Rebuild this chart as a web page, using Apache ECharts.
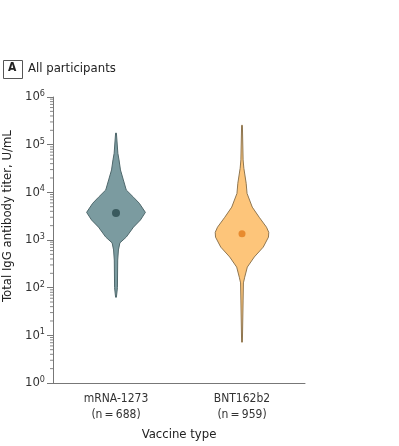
<!DOCTYPE html>
<html>
<head>
<meta charset="utf-8">
<script src="https://cdn.jsdelivr.net/npm/echarts@6/dist/echarts.min.js"></script>
<style>
  html, body { margin: 0; padding: 0; background: #fff; }
  #chart { width: 399px; height: 446px; }
</style>
</head>
<body>
<div id="chart"></div>
<script>
  /*-----data-----*/
  var categories = ['mRNA-1273', 'BNT162b2'];
  var groupSizes = [688, 959];
  var medians = [3700, 1350];

  // violin outlines: titer (U/mL) and relative density (1 = widest)
  var mrnaTiters = [175000, 66000, 48000, 29500, 18200, 11200, 7900, 5900, 3800, 2630, 1860, 1150, 870, 620, 380, 100, 63];
  var mrnaDensity = [0, 0.05, 0.09, 0.14, 0.24, 0.34, 0.59, 0.79, 1, 0.83, 0.59, 0.34, 0.12, 0.07, 0.045, 0.035, 0];
  var bntTiters = [255000, 48000, 32000, 15500, 9500, 4900, 3000, 1860, 1450, 1150, 710, 440, 270, 166, 126, 55, 7.2];
  var bntDensity = [0, 0.024, 0.05, 0.13, 0.16, 0.34, 0.58, 0.83, 0.91, 0.9, 0.72, 0.41, 0.17, 0.08, 0.035, 0.024, 0];

  var yTicks = [1, 10, 100, 1000, 10000, 100000, 1000000];
  var minorTicks = [];
  yTicks.slice(0, -1).forEach(function (d) {
    for (var k = 2; k <= 9; k++) minorTicks.push(d * k);
  });

  var profiles = [
    { t: mrnaTiters, d: mrnaDensity, fill: '#7b9ba0', stroke: '#4e676b' },
    { t: bntTiters, d: bntDensity, fill: '#fdc57a', stroke: '#8f7650' }
  ];

  var chart = echarts.init(document.getElementById('chart'));
  var font = '"Liberation Sans Narrow", "DejaVu Sans Condensed", "Noto Sans", sans-serif';

  var option = {
    animation: false,
    grid: { left: 53, right: 94, top: 97, bottom: 63, outerBoundsMode: 'none', containLabel: false },
    graphic: [
      { type: 'rect', left: 3, top: 60, shape: { width: 19, height: 18 }, style: { fill: '#fff', stroke: '#555', lineWidth: 1 } },
      { type: 'text', left: 8, top: 62, style: { text: 'A', font: 'bold 12px ' + font, fill: '#222' } },
      { type: 'text', left: 28, top: 62, style: { text: 'All participants', font: '13px ' + font, fill: '#222' } }
    ],
    xAxis: {
      type: 'category',
      data: categories,
      name: 'Vaccine type',
      nameLocation: 'middle',
      nameGap: 41,
      nameTextStyle: { fontFamily: font, fontSize: 13, color: '#222' },
      axisLine: { lineStyle: { color: '#777', width: 1 } },
      axisTick: { alignWithLabel: true, length: 4, lineStyle: { color: '#777' } },
      axisLabel: {
        fontFamily: font, fontSize: 12, color: '#333', margin: 8, lineHeight: 16,
        formatter: function (v, i) { return v + '\n(n\u2009=\u2009' + groupSizes[i] + ')'; }
      }
    },
    yAxis: {
      type: 'log',
      logBase: 10,
      min: 1,
      max: 1000000,
      name: 'Total IgG antibody titer, U/mL',
      nameLocation: 'middle',
      nameGap: 35,
      nameTextStyle: { fontFamily: font, fontSize: 13, color: '#222', padding: [0, 0, 0, 48] },
      splitLine: { show: false },
      axisLine: { show: true, lineStyle: { color: '#777', width: 1 } },
      axisTick: { show: true, length: 6, lineStyle: { color: '#777' } },
      axisLabel: {
        fontFamily: font, fontSize: 13, color: '#333', margin: 8,
        formatter: function (v) { return '10{s|' + Math.round(Math.log10(v)) + '}'; },
        rich: { s: { fontFamily: font, fontSize: 9, color: '#333', verticalAlign: 'top', padding: [0, 0, 7, 0] } }
      }
    },
    series: [
      {
        type: 'custom',
        data: [[0], [1]],
        renderItem: function (params, api) {
          var i = api.value(0);
          var p = profiles[i];
          var band = api.size([1, 0])[0];
          var half = band * 0.23;
          var left = [], right = [];
          for (var k = 0; k < p.t.length; k++) {
            var c = api.coord([i, p.t[k]]);
            right.push([c[0] + p.d[k] * half + 0.4, c[1]]);
            left.unshift([c[0] - p.d[k] * half - 0.4, c[1]]);
          }
          return {
            type: 'polygon',
            shape: { points: right.concat(left) },
            style: { fill: p.fill, stroke: p.stroke, lineWidth: 1 }
          };
        },
        z: 2
      },
      {
        type: 'scatter',
        data: [
          { value: [0, medians[0]], symbolSize: 8, itemStyle: { color: '#2b4a4e' } },
          { value: [1, medians[1]], symbolSize: 7, itemStyle: { color: '#e27c1c' } }
        ],
        z: 3
      },
      {
        type: 'custom',
        data: minorTicks,
        renderItem: function (params, api) {
          var c = api.coord([0, api.value(0)]);
          var x0 = params.coordSys.x;
          return {
            type: 'line',
            shape: { x1: x0 - 3, y1: c[1], x2: x0, y2: c[1] },
            style: { stroke: '#888', lineWidth: 1 }
          };
        },
        encode: { y: 0 },
        silent: true
      }
    ]
  };

  chart.setOption(option);
</script>
</body>
</html>
